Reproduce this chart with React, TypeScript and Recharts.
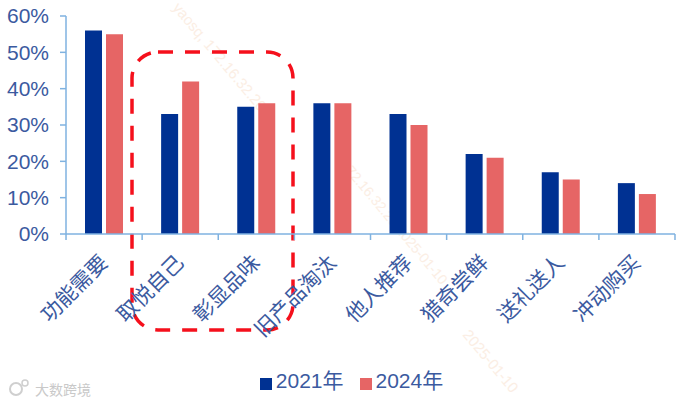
import React from "react";
import { BarChart, Bar, XAxis, YAxis, Legend } from "recharts";

const categories = ["功能需要", "取悦自己", "彰显品味", "旧产品淘汰", "他人推荐", "猎奇尝鲜", "送礼送人", "冲动购买"];
const values2021 = [56, 33, 35, 36, 33, 22, 17, 14];
const values2024 = [55, 42, 36, 36, 30, 21, 15, 11];
const yTicks = [0, 10, 20, 30, 40, 50, 60];

const NAVY = "#003192";
const SALMON = "#e66565";
const TEXT = "#3b5a9f";
const AXIS = "#7fb2e0";
const BAND = 76.1;
const FONT = "'Liberation Sans', Arial, 'Noto Sans CJK SC', sans-serif";

const data = categories.map((name, i) => ({ name, y2021: values2021[i], y2024: values2024[i] }));

const watermarks = [
  { text: "yaosq, 172.16.32.20", x: 172, y: 8, size: 15 },
  { text: "2025-01-10", x: 462, y: 335, size: 15 },
  { text: "172.16.32.20 2025-01-10", x: 340, y: 165, size: 14 },
];

// ticks sit on the category boundaries, labels are rotated under the band centre
function CategoryTick({ x, y, payload, index }: any) {
  const left = x - BAND / 2;
  const axisY = 234;
  const lx = x + 5;
  const ly = axisY + 30;
  return (
    <g>
      <line x1={left} x2={left} y1={axisY} y2={axisY + 6} stroke={AXIS} strokeWidth={1.5} />
      {index === categories.length - 1 && (
        <line x1={left + BAND} x2={left + BAND} y1={axisY} y2={axisY + 6} stroke={AXIS} strokeWidth={1.5} />
      )}
      <text
        x={lx}
        y={ly}
        transform={`rotate(-45 ${lx} ${ly})`}
        textAnchor="end"
        fontSize={21}
        fill={TEXT}
        fontFamily={FONT}
      >
        {payload.value}
      </text>
    </g>
  );
}

function LegendText(value: string) {
  return <span style={{ color: TEXT, fontSize: 21, fontFamily: FONT, marginRight: 6 }}>{value}</span>;
}

export default function App() {
  return (
    <div style={{ position: "absolute", left: 0, top: 0, width: 682, height: 403, background: "#fff", overflow: "hidden" }}>
      <svg width={682} height={403} style={{ position: "absolute", left: 0, top: 0 }}>
        {watermarks.map((w) => (
          <text
            key={w.text}
            x={w.x}
            y={w.y}
            fontSize={w.size}
            fill="#fbeee4"
            fontFamily={FONT}
            transform={`rotate(50 ${w.x} ${w.y})`}
          >
            {w.text}
          </text>
        ))}
        <rect
          x={132}
          y={52}
          width={161}
          height={278}
          rx={26}
          fill="none"
          stroke="#f5101c"
          strokeWidth={3.5}
          strokeDasharray="15 12"
        />
        <circle cx={16} cy={389} r={6} fill="none" stroke="#cfcfcf" strokeWidth={2} />
        <circle cx={25} cy={383} r={3} fill="none" stroke="#cfcfcf" strokeWidth={1.5} />
        <text x={35} y={395} fontSize={14} fill="#c9c9c9" fontFamily="'Noto Sans CJK SC'">
          大数跨境
        </text>
      </svg>
      <div style={{ position: "absolute", left: 0, top: 0 }}>
        <BarChart
          width={682}
          height={403}
          data={data}
          barSize={17}
          barGap={4}
          margin={{ top: 16, right: 7, bottom: 0, left: 0 }}
        >
          <XAxis
            dataKey="name"
            interval={0}
            height={169}
            tickLine={false}
            axisLine={{ stroke: AXIS, strokeWidth: 1.5 }}
            tick={<CategoryTick />}
          />
          <YAxis
            width={66}
            domain={[0, 60]}
            ticks={yTicks}
            interval={0}
            tickFormatter={(v: number) => `${v}%`}
            tickSize={6}
            tickMargin={11}
            tickLine={{ stroke: AXIS, strokeWidth: 1.5 }}
            axisLine={{ stroke: AXIS, strokeWidth: 1.5 }}
            tick={{ fontSize: 21, fill: TEXT, fontFamily: FONT }}
          />
          <Legend
            layout="horizontal"
            align="center"
            verticalAlign="middle"
            iconType="square"
            iconSize={12}
            formatter={LegendText}
            wrapperStyle={{ left: 257, top: 364, width: 205 }}
          />
          <Bar dataKey="y2021" name="2021年" fill={NAVY} isAnimationActive={false} />
          <Bar dataKey="y2024" name="2024年" fill={SALMON} isAnimationActive={false} />
        </BarChart>
      </div>
    </div>
  );
}
